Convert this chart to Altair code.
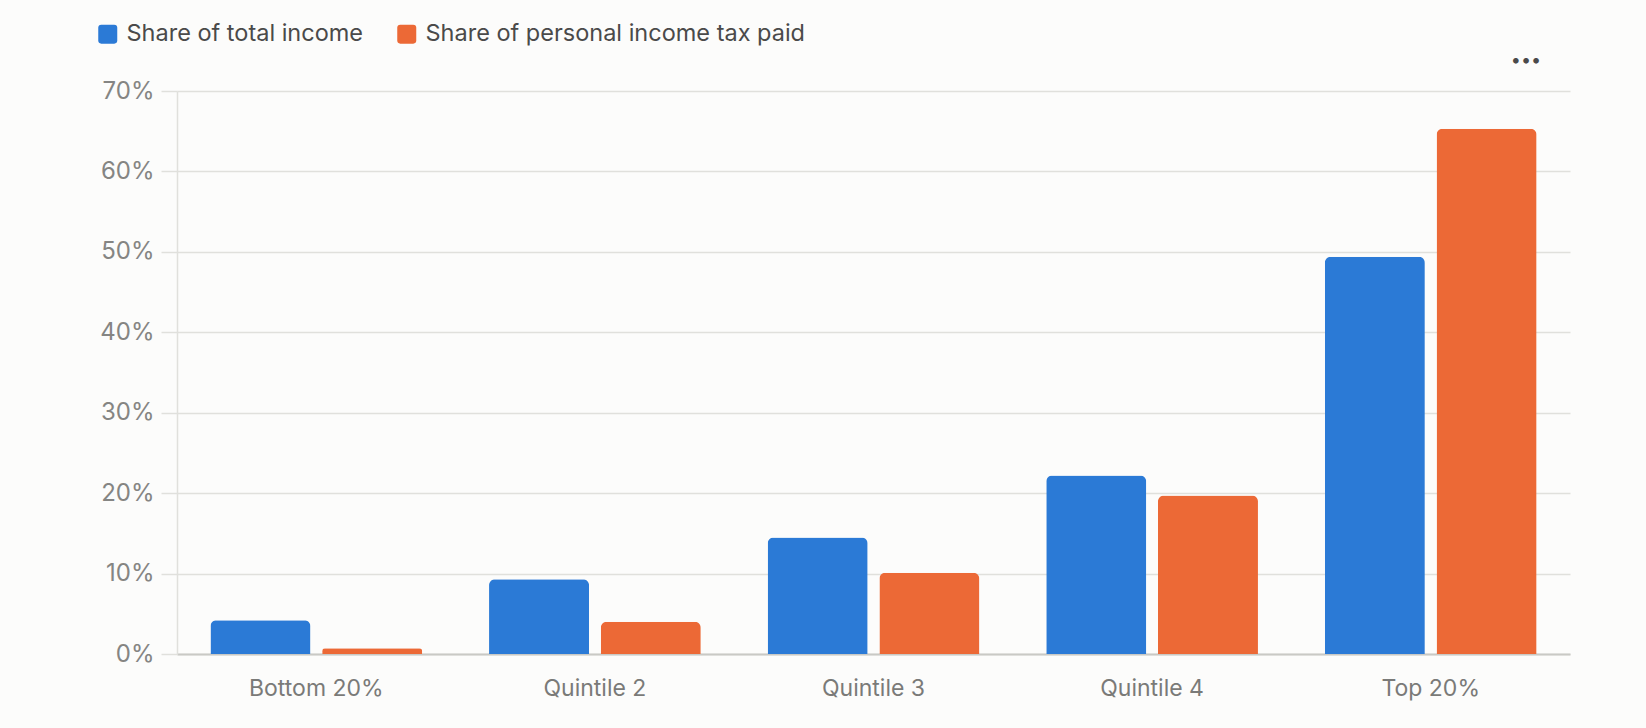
import altair as alt
import pandas as pd

categories = ["Bottom 20%", "Quintile 2", "Quintile 3", "Quintile 4", "Top 20%"]
series_names = ["Share of total income", "Share of personal income tax paid"]
income_share = [4.2, 9.3, 14.5, 22.2, 49.4]
tax_share = [0.7, 4.0, 10.1, 19.7, 65.3]
y_ticks = [0, 10, 20, 30, 40, 50, 60, 70]
colors = ["#2b7ad6", "#ec6936"]

rows = []
for c, a, b in zip(categories, income_share, tax_share):
    rows.append({"group": c, "series": series_names[0], "value": a})
    rows.append({"group": c, "series": series_names[1], "value": b})
df = pd.DataFrame(rows)

FONT = "Inter"
rounded_square = ("M -1 -0.68 Q -1 -1 -0.68 -1 L 0.68 -1 Q 1 -1 1 -0.68 L 1 0.68 "
                  "Q 1 1 0.68 1 L -0.68 1 Q -1 1 -1 0.68 Z")

bars = alt.Chart(df).mark_bar(cornerRadiusTopLeft=6, cornerRadiusTopRight=6).encode(
    x=alt.X("group:N", sort=categories,
            scale=alt.Scale(paddingInner=0.24, paddingOuter=0.12),
            axis=alt.Axis(title=None, labelAngle=0, ticks=False, labelPadding=23,
                          labelFontSize=23, labelColor="#7a7a78", labelFont=FONT,
                          domainColor="#c9c9c5", domainWidth=2, grid=False)),
    xOffset=alt.XOffset("series:N", sort=series_names,
                        scale=alt.Scale(paddingInner=0.105, paddingOuter=0)),
    y=alt.Y("value:Q", scale=alt.Scale(domain=[0, 70], nice=False),
            axis=alt.Axis(title=None, values=y_ticks, labelExpr="datum.value + '%'",
                          labelFontSize=24, labelColor="#858583", labelFont=FONT,
                          labelPadding=7, tickSize=16, tickColor="#e0e0dc", tickWidth=1.5,
                          gridColor="#e0e0dc", gridWidth=1.5,
                          domainColor="#e0e0dc", domainWidth=1.5)),
    color=alt.Color("series:N", sort=series_names,
                    scale=alt.Scale(domain=series_names, range=colors),
                    legend=alt.Legend(title=None, orient="none", direction="horizontal",
                                      legendX=-81, legendY=-69,
                                      symbolType=rounded_square, symbolSize=361,
                                      symbolStrokeWidth=0, symbolOpacity=1,
                                      labelFontSize=23.5, labelColor="#4a4a4a", labelFont=FONT,
                                      labelLimit=1000,
                                      labelOffset=7, columnPadding=31, symbolOffset=0)),
)

dots = alt.Chart(pd.DataFrame({"t": ["•••"]})).mark_text(
    fontSize=18, color="#4a4a4a", font=FONT
).encode(x=alt.value(1349), y=alt.value(-30), text="t:N")

chart = alt.layer(bars, dots).properties(
    width=1393, height=563,
    autosize=alt.AutoSizeParams(type="none"),
    padding={"left": 169, "top": 83, "right": 60, "bottom": 50},
    background="#fcfcfb",
).configure_view(stroke=None)

chart.save("out.html", embed_options={"renderer": "svg", "actions": False})

with open("out.html", "r", encoding="utf-8") as f:
    html = f.read()
html = html.replace("<body>", '<body style="background:#fcfcfb">', 1)
with open("out.html", "w", encoding="utf-8") as f:
    f.write(html)
